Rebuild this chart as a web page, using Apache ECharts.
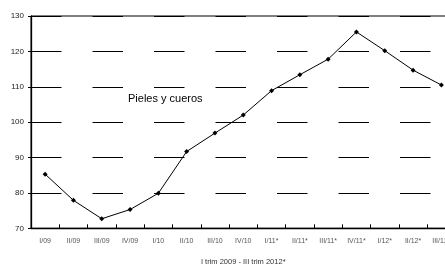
<!DOCTYPE html>
<html><head><meta charset="utf-8">
<script src="https://cdn.jsdelivr.net/npm/echarts@6/dist/echarts.min.js"></script>
<style>html,body{margin:0;padding:0;background:#fff}#c{width:445px;height:266px}</style>
</head><body><div id="c"></div>
<script>
const categories = ["I/09","II/09","III/09","IV/09","I/10","II/10","III/10","IV/10","I/11*","II/11*","III/11*","IV/11*","I/12*","II/12*","III/12*"];
const values = [85.3, 77.9, 72.7, 75.3, 79.9, 91.7, 96.9, 102.0, 108.9, 113.4, 117.8, 125.5, 120.2, 114.7, 110.5];
const seriesName = "Pieles y cueros";
const xTitle = "I trim 2009 - III trim 2012*";

const chart = echarts.init(document.getElementById('c'), null, {renderer:'canvas'});
chart.setOption({
  animation:false,
  backgroundColor:'#fff',
  grid:{left:31, top:16, width:424.5, height:212.3, outerBoundsMode:'none', containLabel:false,
        show:true, borderColor:'#000', borderWidth:1, backgroundColor:'transparent'},
  xAxis:{
    type:'category', data:categories, boundaryGap:true,
    name:xTitle, nameLocation:'middle', nameGap:30,
    nameTextStyle:{fontFamily:'Liberation Sans', fontSize:7.5, color:'#333'},
    axisLine:{lineStyle:{color:'#000', width:1.3}},
    axisTick:{show:true, alignWithLabel:false, length:4, inside:true, lineStyle:{color:'#000'}},
    axisLabel:{fontFamily:'Liberation Sans', fontSize:7, color:'#555', margin:9, interval:0, hideOverlap:false},
    splitLine:{show:false}
  },
  yAxis:{
    type:'value', min:70, max:130, interval:10,
    axisLine:{show:true, lineStyle:{color:'#000', width:1.3}},
    axisTick:{show:true, length:3, lineStyle:{color:'#000'}},
    axisLabel:{fontFamily:'Liberation Sans', fontSize:8, color:'#222', margin:7},
    splitLine:{show:true, lineStyle:{color:'#000', width:1, type:[30.5,31]}}
  },
  graphic:[{type:'text', left:128, top:93, style:{text:seriesName, font:'11px "Liberation Sans"', fill:'#000'}}],
  series:[{
    name:seriesName, type:'line', data:values,
    symbol:'diamond', symbolSize:5,
    lineStyle:{color:'#000', width:1},
    itemStyle:{color:'#000'}
  }]
});
</script></body></html>
